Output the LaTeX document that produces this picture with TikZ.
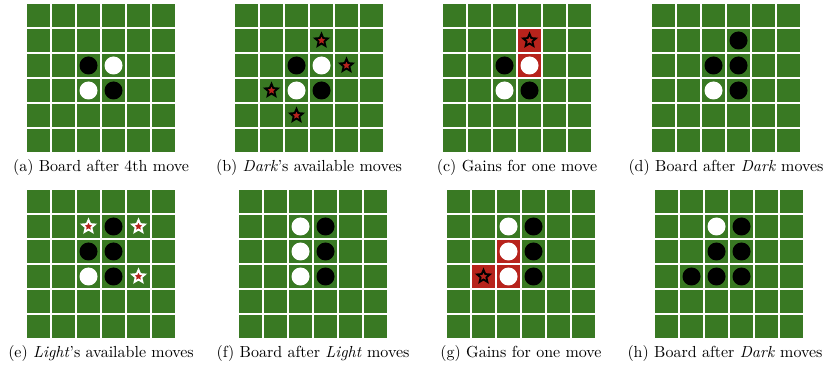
\documentclass[tikz,border=0pt]{standalone}
\usetikzlibrary{shapes.geometric,calc}
\definecolor{boardgreen}{RGB}{57,121,35}
\definecolor{gainred}{RGB}{183,35,28}
\tikzset{
  cellsq/.style={fill=boardgreen},
  gaincell/.style={fill=gainred},
  darkdisc/.style={circle, fill=black, minimum size=10.8pt, inner sep=0pt},
  lightdisc/.style={circle, fill=white, minimum size=10.8pt, inner sep=0pt},
  darkstar/.style={star, star points=5, star point ratio=2.2, draw=black, fill=gainred, line width=1.1pt, minimum size=8pt, inner sep=0pt},
  lightstar/.style={star, star points=5, star point ratio=2.2, draw=white, fill=gainred, line width=1.1pt, minimum size=8pt, inner sep=0pt},
  captext/.style={anchor=base, inner sep=0pt, font=\fontsize{9.6}{11.5}\selectfont}
}
% board: name, x, y (top-left, px)
\newcommand\othboard[3]{%
  \coordinate (#1) at (#2,#3);
  \foreach \i in {0,...,5}{\foreach \j in {0,...,5}{
    \fill[cellsq] ($(#1)+(25*\i,25*\j)$) rectangle ++(23,23);}}%
}
% red cell: board, col, row
\newcommand\gaincellat[3]{%
  \fill[gaincell] ($(#1)+(25*#2,25*#3)$) rectangle ++(23,23);}
% piece: style, board, col, row
\newcommand\piece[4]{%
  \node[#1] (#2-#3-#4) at ($(#2)+(25*#3+11.5,25*#4+11.5)$) {};}
\begin{document}
\begin{tikzpicture}[x=0.6pt,y=-0.6pt]
\useasboundingbox (0,0) rectangle (828,366);
% ---- row 1
\othboard{A}{27}{4}
\othboard{B}{235}{4}
\othboard{C}{443}{4}
\othboard{D}{652}{4}
% ---- row 2
\othboard{E}{27}{190}
\othboard{F}{239}{190}
\othboard{G}{447}{190}
\othboard{H}{655}{190}
% (a)
\piece{darkdisc}{A}{2}{2}\piece{lightdisc}{A}{3}{2}
\piece{lightdisc}{A}{2}{3}\piece{darkdisc}{A}{3}{3}
% (b)
\piece{darkdisc}{B}{2}{2}\piece{lightdisc}{B}{3}{2}
\piece{lightdisc}{B}{2}{3}\piece{darkdisc}{B}{3}{3}
\piece{darkstar}{B}{3}{1}\piece{darkstar}{B}{4}{2}
\piece{darkstar}{B}{1}{3}\piece{darkstar}{B}{2}{4}
% (c)
\gaincellat{C}{3}{1}\gaincellat{C}{3}{2}
\piece{darkdisc}{C}{2}{2}\piece{lightdisc}{C}{3}{2}
\piece{lightdisc}{C}{2}{3}\piece{darkdisc}{C}{3}{3}
\piece{darkstar}{C}{3}{1}
% (d)
\piece{darkdisc}{D}{3}{1}
\piece{darkdisc}{D}{2}{2}\piece{darkdisc}{D}{3}{2}
\piece{lightdisc}{D}{2}{3}\piece{darkdisc}{D}{3}{3}
% (e)
\piece{darkdisc}{E}{3}{1}
\piece{darkdisc}{E}{2}{2}\piece{darkdisc}{E}{3}{2}
\piece{lightdisc}{E}{2}{3}\piece{darkdisc}{E}{3}{3}
\piece{lightstar}{E}{2}{1}\piece{lightstar}{E}{4}{1}\piece{lightstar}{E}{4}{3}
% (f)
\piece{lightdisc}{F}{2}{1}\piece{darkdisc}{F}{3}{1}
\piece{lightdisc}{F}{2}{2}\piece{darkdisc}{F}{3}{2}
\piece{lightdisc}{F}{2}{3}\piece{darkdisc}{F}{3}{3}
% (g)
\gaincellat{G}{1}{3}\gaincellat{G}{2}{2}\gaincellat{G}{2}{3}
\piece{lightdisc}{G}{2}{1}\piece{darkdisc}{G}{3}{1}
\piece{lightdisc}{G}{2}{2}\piece{darkdisc}{G}{3}{2}
\piece{lightdisc}{G}{2}{3}\piece{darkdisc}{G}{3}{3}
\piece{darkstar}{G}{1}{3}
% (h)
\piece{lightdisc}{H}{2}{1}\piece{darkdisc}{H}{3}{1}
\piece{darkdisc}{H}{2}{2}\piece{darkdisc}{H}{3}{2}
\piece{darkdisc}{H}{1}{3}\piece{darkdisc}{H}{2}{3}\piece{darkdisc}{H}{3}{3}
% captions
\node[captext] (capA) at (101,172) {(a) Board after 4th move};
\node[captext] (capB) at (309,172) {(b) \textit{Dark}'s available moves};
\node[captext] (capC) at (517,172) {(c) Gains for one move};
\node[captext] (capD) at (726,172) {(d) Board after \textit{Dark} moves};
\node[captext] (capE) at (101,357) {(e) \textit{Light}'s available moves};
\node[captext] (capF) at (313,357) {(f) Board after \textit{Light} moves};
\node[captext] (capG) at (521,357) {(g) Gains for one move};
\node[captext] (capH) at (725,357) {(h) Board after \textit{Dark} moves};
\end{tikzpicture}
\end{document}
